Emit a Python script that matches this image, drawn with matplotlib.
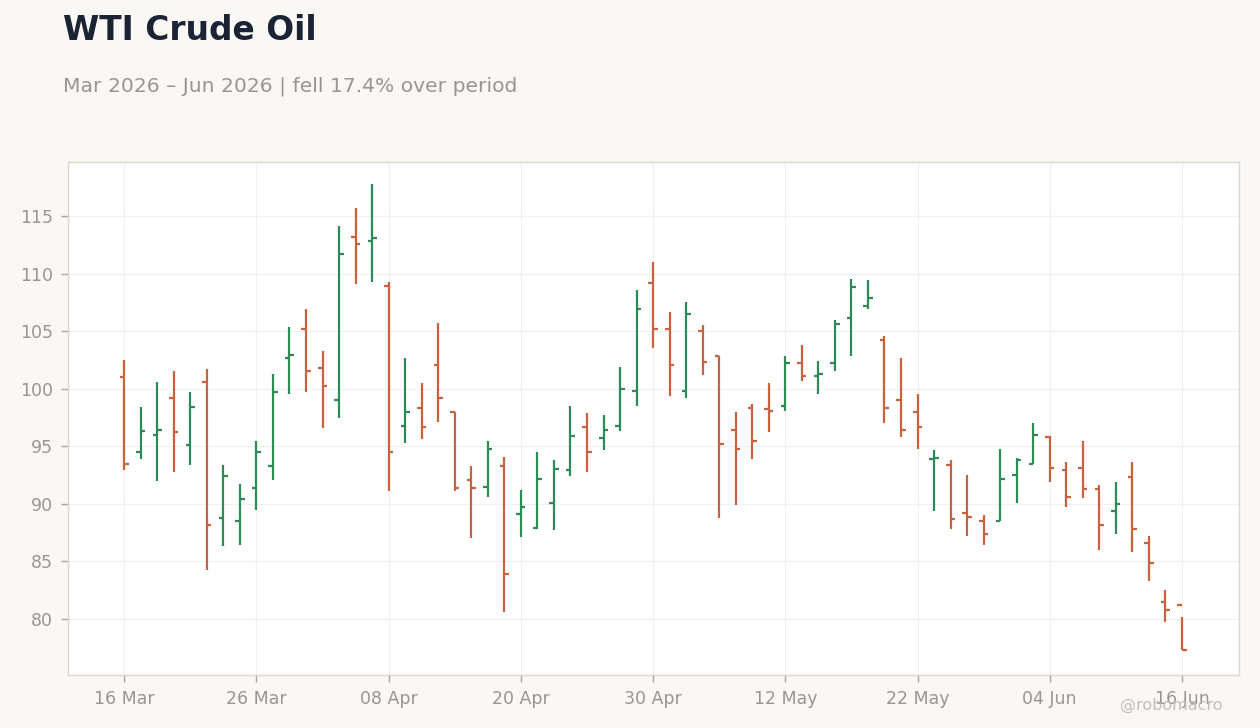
import numpy as np
import matplotlib
matplotlib.use("Agg")
import matplotlib.pyplot as plt

# daily bars, trading days 16 Mar - 16 Jun 2026
opens = [101.0, 94.5, 96.0, 99.2, 95.1, 100.6, 88.8, 88.5, 91.4, 93.3,
         102.7, 105.2, 101.8, 99.0, 113.2, 112.8, 108.9, 96.8, 98.3, 102.1,
         98.0, 92.1, 91.5, 93.3, 89.1, 87.9, 90.1, 92.9, 96.7, 95.7,
         96.8, 99.8, 109.2, 105.2, 99.8, 105.0, 102.8, 96.4, 98.3, 98.2,
         98.5, 102.2, 101.1, 102.2, 106.1, 107.2, 104.2, 99.0, 98.0, 93.9,
         93.4, 89.2, 88.5, 88.5, 92.5, 93.5, 95.8, 92.9, 93.1, 91.3,
         89.4, 92.3, 86.6, 81.5, 81.2]
highs = [102.5, 98.4, 100.6, 101.5, 99.7, 101.7, 93.4, 91.7, 95.5, 101.3,
         105.4, 106.9, 103.3, 114.1, 115.7, 117.8, 109.3, 102.7, 100.5, 105.7,
         98.0, 93.3, 95.5, 94.1, 91.2, 94.5, 93.8, 98.5, 97.9, 97.7,
         101.9, 108.6, 111.0, 106.7, 107.5, 105.5, 102.8, 98.0, 98.7, 100.5,
         102.8, 103.8, 102.4, 106.0, 109.5, 109.4, 104.6, 102.7, 99.5, 94.7,
         93.8, 92.5, 89.0, 94.8, 94.0, 97.0, 95.9, 93.6, 95.5, 91.6,
         91.9, 93.6, 87.2, 82.5, 80.2]
lows = [92.9, 93.9, 92.0, 92.8, 93.4, 84.3, 86.3, 86.4, 89.5, 92.1,
        99.5, 99.7, 96.6, 97.5, 109.1, 109.3, 91.1, 95.3, 95.6, 97.1,
        91.1, 87.0, 90.6, 80.6, 87.1, 87.8, 87.7, 92.4, 92.8, 94.7,
        96.3, 98.5, 103.5, 99.4, 99.2, 101.2, 88.8, 89.9, 93.9, 96.2,
        98.1, 100.7, 99.5, 101.5, 102.8, 106.9, 97.0, 95.8, 94.8, 89.4,
        87.8, 87.2, 86.4, 88.5, 90.1, 93.5, 91.9, 89.7, 90.5, 86.0,
        87.4, 85.8, 83.3, 79.7, 77.3]
closes = [93.5, 96.3, 96.4, 96.2, 98.4, 88.2, 92.4, 90.4, 94.5, 99.7,
          102.9, 101.5, 100.2, 111.7, 112.6, 113.1, 94.5, 98.0, 96.7, 99.2,
          91.4, 91.4, 94.8, 83.9, 89.7, 92.2, 93.0, 95.9, 94.5, 96.4,
          100.0, 106.9, 105.2, 102.1, 106.5, 102.3, 95.2, 94.8, 95.5, 98.1,
          102.2, 101.1, 101.3, 105.6, 108.8, 107.9, 98.3, 96.4, 96.7, 94.0,
          88.7, 88.9, 87.4, 92.2, 93.8, 96.0, 93.1, 90.6, 91.3, 88.2,
          90.0, 87.8, 84.9, 80.8, 77.3]

tick_pos = [0, 8, 16, 24, 32, 40, 48, 56, 64]
tick_labels = ["16 Mar", "26 Mar", "08 Apr", "20 Apr", "30 Apr",
               "12 May", "22 May", "04 Jun", "16 Jun"]

UP = "#2e8a57"
DOWN = "#c9623f"
TXT = "#9a958f"

fig = plt.figure(figsize=(12.6, 7.28), dpi=100, facecolor="#f9f8f5")
ax = fig.add_axes([0.054, 0.0728, 0.9293, 0.7047])
ax.set_facecolor("white")

x = np.arange(len(opens))
o = np.array(opens)
c = np.array(closes)
cols = [UP if cc >= oo else DOWN for oo, cc in zip(o, c)]
tw = 0.28
ax.vlines(x, lows, highs, colors=cols, linewidth=1.6, zorder=3)
ax.hlines(o, x - tw, x, colors=cols, linewidth=1.6, zorder=3)
ax.hlines(c, x, x + tw, colors=cols, linewidth=1.6, zorder=3)

ax.set_xlim(-3.4, 67.45)
ax.set_ylim(75.14, 119.69)
ax.set_xticks(tick_pos)
ax.set_xticklabels(tick_labels)
ax.set_yticks([80, 85, 90, 95, 100, 105, 110, 115])
ax.grid(True, color="#efefef", linewidth=0.8, zorder=0)
ax.set_axisbelow(True)
for s in ax.spines.values():
    s.set_color("#ddd6cf")
    s.set_linewidth(1.0)
ax.tick_params(colors=TXT, labelsize=12.5, length=5, width=1, pad=6)
ax.tick_params(axis="x", color="#aaa5a0")
ax.tick_params(axis="y", color="#aaa5a0")

fig.text(0.05, 0.958, "WTI Crude Oil", fontsize=23.7, fontweight="bold",
         color="#1b2434", va="center", ha="left")
fig.text(0.05, 0.882, "Mar 2026 \u2013 Jun 2026 | fell 17.4% over period",
         fontsize=14.6, color=TXT, va="center", ha="left")
fig.text(0.97, 0.031, "@robomacro", fontsize=11.5, color="#bdb9b4",
         ha="right", va="center", alpha=0.9)

fig.savefig("out.png", dpi=100, facecolor=fig.get_facecolor())
